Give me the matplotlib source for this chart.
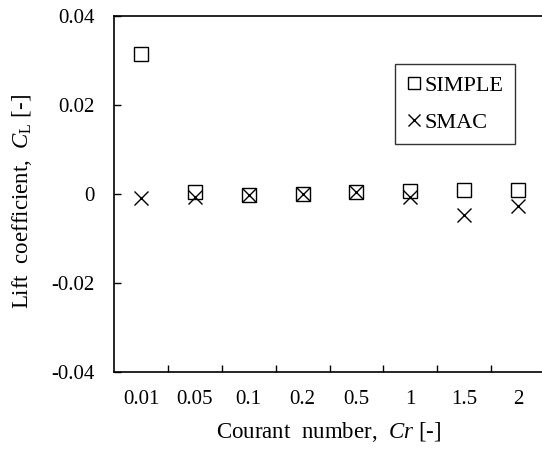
import matplotlib
matplotlib.use("Agg")
import matplotlib.pyplot as plt
import numpy as np
from matplotlib.ticker import FixedLocator

plt.rcParams['font.family'] = ['Liberation Serif', 'DejaVu Serif']
plt.rcParams['mathtext.fontset'] = 'custom'
plt.rcParams['mathtext.rm'] = 'Liberation Serif'
plt.rcParams['mathtext.it'] = 'Liberation Serif:italic'

courant = ["0.01", "0.05", "0.1", "0.2", "0.5", "1", "1.5", "2"]
cl_simple = [0.0315, 0.0004, -0.0002, -0.0001, 0.0005, 0.0007, 0.0009, 0.0010]
cl_smac = [-0.0010, -0.0007, -0.0002, -0.0001, 0.0005, -0.0006, -0.0047, -0.0026]

fig = plt.figure(figsize=(5.42, 4.49), dpi=100)
ax = fig.add_axes([114 / 542, 1 - 372 / 449, 431 / 542, 356 / 449])

x = np.arange(len(courant))
ax.plot(x, cl_simple, linestyle="none", marker="s", markersize=10,
        markerfacecolor="none", markeredgecolor="black", markeredgewidth=1.0,
        label="SIMPLE")
ax.plot(x, cl_smac, linestyle="none", marker="x", markersize=10,
        color="black", markeredgewidth=1.0, label="SMAC")

ax.set_xlim(-0.5, len(courant) - 0.5)
ax.set_ylim(-0.04, 0.04)
ax.set_yticks([-0.04, -0.02, 0, 0.02, 0.04])
ax.set_yticklabels(["-0.04", "-0.02", "0", "0.02", "0.04"])
ax.set_xticks(x)
ax.set_xticklabels(courant)
ax.xaxis.set_minor_locator(FixedLocator(np.arange(0.5, len(courant) - 0.5, 1)))
ax.tick_params(axis="x", which="major", length=0, pad=13, labelsize=15)
ax.tick_params(axis="x", which="minor", direction="in", length=5, width=1)
ax.tick_params(axis="y", direction="in", length=5, width=1, pad=14, labelsize=15)
for side in ["left", "bottom", "top", "right"]:
    ax.spines[side].set_linewidth(1.2)

ax.set_xlabel(r"Courant  number,  $Cr$ [-]", fontsize=16.5)
ax.set_ylabel(r"Lift  coefficient,  $C_\mathrm{L}$ [-]", fontsize=16.5)
ax.xaxis.set_label_coords(0.497, -0.135)
ax.yaxis.set_label_coords(-0.185, 0.478)

leg = ax.legend(loc="upper left", bbox_to_anchor=(395 / 542, 1 - 64 / 449),
                bbox_transform=fig.transFigure, fontsize=16,
                frameon=True, fancybox=False, edgecolor="black",
                handlelength=0.7, handletextpad=0.15, markerscale=0.9,
                borderpad=0.5, labelspacing=0.75, borderaxespad=0)
leg.get_frame().set_linewidth(1.0)

fig.savefig("out.png", dpi=100)
